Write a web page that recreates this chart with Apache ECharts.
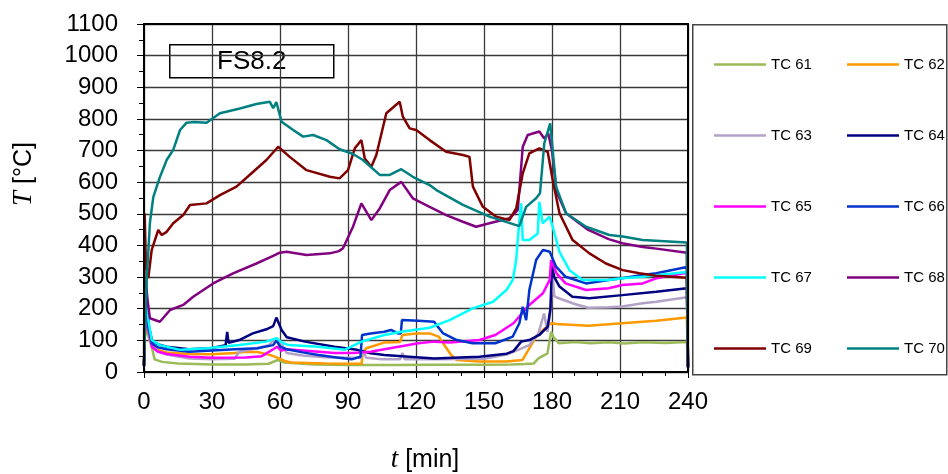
<!DOCTYPE html>
<html>
<head>
<meta charset="utf-8">
<script src="https://cdn.jsdelivr.net/npm/echarts@6/dist/echarts.min.js"></script>
<style>html,body{margin:0;padding:0;background:#fff}#c{width:948px;height:474px}</style>
</head>
<body>
<div id="c"></div>
<script>
const xTicks = [0, 30, 60, 90, 120, 150, 180, 210, 240];
const yTicks = [0, 100, 200, 300, 400, 500, 600, 700, 800, 900, 1000, 1100];
const seriesNames = ['TC 61','TC 62','TC 63','TC 64','TC 65','TC 66','TC 67','TC 68','TC 69','TC 70'];
const seriesColors = ['#9BBB59','#FF9900','#B3A2C7','#000080','#FF00FF','#0033CC','#00FFFF','#800080','#800000','#008080'];
const chartLabel = 'FS8.2';
const xTitle = '{i|t} [min]';
const yTitle = '{i|T} [°C]';

const tc61 = [[0,20],[0.7,200],[1.5,120],[2.5,100],[3.7,70],[4.7,40],[8,32],[15,27],[30,24],[45,24],[55,26],[59,38],[62,30],[75,24],[90,22],[110,22],[130,23],[150,23],[162,24],[168,25],[172,27],[174,43],[178,59],[179.6,127],[180.5,112],[183,91],[190,95],[197,91],[205,94],[212,90],[220,94],[230,92],[239.5,95],[240,15]];
const tc62 = [[0,20],[0.8,250],[2,130],[3.5,85],[6,70],[10,62],[20,57],[30,56],[40,60],[45,64],[50,63],[55,55],[58,48],[62,35],[65,30],[80,27],[96,26],[96.5,60],[98,75],[106,93],[113,95],[114,117],[120,122],[126,122],[130,112],[133,80],[135.5,54],[138,38],[148,33],[160,33],[167,38],[170,75],[173,112],[176,133],[179.6,154],[182,152],[196,146],[211,154],[226,162],[239.5,172],[240,15]];
const tc63 = [[0,20],[0.8,260],[2,140],[3.5,85],[6,65],[10,55],[20,43],[30,40],[40,42],[42,64],[50,75],[55,85],[58.5,107],[61,85],[63,60],[70,52],[80,47],[90,45],[96,45],[96.5,70],[98,45],[105,40],[113,40],[114,60],[115,40],[130,40],[150,42],[160,55],[165,70],[170,85],[174,122],[176.5,185],[178,127],[179.5,200],[180,330],[181,240],[183,233],[190,215],[196,203],[205,205],[211,207],[220,217],[226,222],[239.5,236],[240,15]];
const tc64 = [[0,20],[0.8,270],[2,150],[3.5,100],[6,88],[10,80],[20,72],[30,76],[36,85],[36.7,127],[37.3,92],[42,101],[48,122],[54,135],[57,145],[58.4,172],[60.7,133],[63,110],[71,96],[84,80],[94,70],[100,59],[106,54],[128,43],[148,48],[160,58],[163,66],[166.4,96],[170,101],[174.4,117],[178.1,143],[179.3,200],[180,335],[181,300],[183.3,270],[189,238],[196.5,233],[211,243],[226,254],[239.5,265],[240,15]];
const tc65 = [[0,20],[0.8,240],[2,130],[3.5,80],[6,65],[10,57],[20,48],[30,45],[45,46],[52,50],[57,72],[58.7,80],[60.5,68],[63,72],[77,64],[84,60],[92,60],[100,64],[106,72],[121,91],[128,96],[135,93],[148,101],[155,117],[163,154],[170,212],[176,249],[179,291],[179.6,354],[182,312],[186,280],[195,259],[205,265],[211,275],[220,280],[226,296],[239.5,314],[240,15]];
const tc66 = [[0,20],[0.8,260],[2,140],[3.5,90],[6,78],[10,72],[20,64],[30,68],[40,72],[50,75],[57,85],[58.5,100],[60,80],[63,72],[70,62],[77,54],[85,46],[91.6,40],[95.5,48],[96.2,117],[100,122],[106,127],[109,133],[112,122],[113.3,122],[113.8,164],[121,162],[128,159],[129,149],[132,122],[138,101],[145,91],[155,91],[162.7,112],[165.6,154],[167.1,206],[168.6,164],[170,259],[173,354],[176,386],[179,380],[181.8,333],[186,301],[195,280],[205,291],[211,296],[220,307],[226,312],[239.5,332],[240,15]];
const tc67 = [[0,20],[0.8,290],[2,160],[3.4,101],[7,85],[16,70],[27.6,75],[42,85],[54,96],[58.4,107],[61.4,91],[64,85],[77,80],[88.5,70],[96,96],[106,117],[113.5,127],[126,140],[134.8,164],[145,201],[154,222],[160,260],[162.7,291],[164.2,354],[165.6,480],[166.4,533],[167.1,417],[170,417],[173.7,438],[174.4,538],[175.9,470],[178.9,491],[180.3,459],[183.3,380],[187.7,322],[193.5,291],[205,291],[211,296],[220,301],[239.5,316],[240,15]];
const tc68 = [[0,20],[0.8,290],[1.5,230],[2.6,170],[7,159],[11.5,196],[17.3,212],[21.7,238],[30.5,280],[39.3,312],[49.6,343],[57,367],[59.9,377],[62.9,380],[71.7,370],[82,375],[86,382],[87.8,391],[92.2,459],[95.9,533],[100.3,480],[104,517],[108.4,575],[113.5,601],[118.6,549],[126,522],[133.3,496],[140.7,475],[146.5,459],[152.4,470],[161.2,486],[164.9,512],[167.1,712],[169.3,749],[174.4,760],[176.6,738],[178.3,755],[180,700],[182,570],[186.2,502],[196,449],[205,420],[211,407],[220,395],[226,390],[239.5,377],[240,15]];
const tc69 = [[0,20],[0.3,501],[0.8,350],[1.9,297],[3.4,386],[6.3,449],[7.8,433],[10,443],[12.9,470],[17.3,496],[20.3,528],[27.6,533],[33.5,559],[40.8,586],[48.2,633],[54,670],[59.2,712],[64.3,680],[71.7,638],[82,617],[86.3,612],[90,638],[93,707],[95.9,733],[97.4,675],[100.3,649],[102.5,686],[106.9,818],[112.8,854],[114.2,807],[117.2,770],[120.1,765],[126,733],[133.3,696],[140.7,686],[143.6,680],[145.1,586],[149.5,522],[155.4,491],[161.2,480],[164.2,517],[167.1,628],[170,691],[174.4,707],[178.1,696],[180.3,607],[183.3,502],[189.1,417],[196.5,375],[203.8,343],[211.2,322],[218.5,312],[225.9,304],[239.5,298],[240,15]];
const tc70 = [[0,20],[0.5,150],[1.2,291],[2.6,471],[4.1,553],[7,616],[10,670],[12.9,702],[15.9,765],[18.8,788],[22,790],[27.6,788],[33.5,818],[42.3,833],[49.6,847],[55.5,854],[57,834],[58.4,853],[60.7,791],[65.8,765],[70.2,744],[74.6,749],[80.5,733],[86.3,704],[92,690],[96.6,670],[104,623],[108.4,623],[113.5,641],[118.6,617],[126,591],[129,575],[140.7,528],[152.4,491],[165.6,461],[168.6,522],[173,549],[174.7,565],[176.6,723],[179.2,786],[181.8,586],[186.2,502],[195,459],[205.3,433],[211.2,428],[220,417],[239.5,409],[240,15]];

const seriesData = [tc61, tc62, tc63, tc64, tc65, tc66, tc67, tc68, tc69, tc70];

const FONT = 'Liberation Sans, Arial, sans-serif';
const SERIF = 'Liberation Serif, Times New Roman, serif';
const chart = echarts.init(document.getElementById('c'), null, {renderer: 'canvas'});

const series = seriesNames.map((n, i) => ({
  name: n,
  type: 'line',
  data: seriesData[i],
  showSymbol: false,
  symbol: 'none',
  animation: false,
  lineStyle: {color: seriesColors[i], width: 2.5},
  itemStyle: {color: seriesColors[i]},
  z: 3
}));

const legendCommon = {
  orient: 'vertical',
  top: 52,
  itemWidth: 52,
  itemHeight: 14,
  itemGap: 56,
  icon: 'path://M0,6 L52,6 L52,8.5 L0,8.5 Z',
  textStyle: {fontFamily: FONT, fontSize: 15, color: '#000', lineHeight: 14},
  selectedMode: false
};

const titleRich = {i: {fontFamily: SERIF, fontStyle: 'italic', fontSize: 27, color: '#000'}};

chart.setOption({
  animation: false,
  backgroundColor: '#fff',
  grid: {left: 144, right: 260, top: 24, bottom: 102, show: true, borderColor: '#000', borderWidth: 2, backgroundColor: 'transparent', z: 4},
  legend: [
    Object.assign({}, legendCommon, {left: 709, data: [seriesNames[0], seriesNames[2], seriesNames[4], seriesNames[6], seriesNames[8]]}),
    Object.assign({}, legendCommon, {left: 842, data: [seriesNames[1], seriesNames[3], seriesNames[5], seriesNames[7], seriesNames[9]]})
  ],
  xAxis: {
    type: 'value', min: xTicks[0], max: xTicks[xTicks.length - 1], interval: 30,
    axisLine: {show: true, lineStyle: {color: '#000', width: 2}},
    axisTick: {show: true, inside: false, length: 6, lineStyle: {color: '#000', width: 1}},
    minorTick: {show: true, splitNumber: 3, length: 4, lineStyle: {color: '#000', width: 1}},
    axisLabel: {fontFamily: FONT, fontSize: 24, color: '#000', margin: 18, formatter: v => String(v)},
    splitLine: {show: true, lineStyle: {color: '#3a3a3a', width: 1.3}}
  },
  yAxis: {
    type: 'value', min: yTicks[0], max: yTicks[yTicks.length - 1], interval: 100,
    axisLine: {show: true, lineStyle: {color: '#000', width: 2}},
    axisTick: {show: true, inside: false, length: 7, lineStyle: {color: '#000', width: 1}},
    minorTick: {show: true, splitNumber: 2, length: 5, lineStyle: {color: '#000', width: 1}},
    axisLabel: {fontFamily: FONT, fontSize: 24, color: '#000', margin: 26, formatter: v => String(v)},
    splitLine: {show: true, lineStyle: {color: '#3a3a3a', width: 1.3}}
  },
  graphic: [
    {type: 'rect', left: 692, top: 24, shape: {width: 254, height: 350}, style: {fill: 'transparent', stroke: '#444', lineWidth: 1.5}, z: 1},
    {type: 'group', left: 169, top: 44, z: 10, children: [
      {type: 'rect', shape: {x: 0, y: 0, width: 164, height: 33}, style: {fill: '#fff', stroke: '#000', lineWidth: 1.5}},
      {type: 'text', x: 82, y: 17, style: {text: chartLabel, fontFamily: FONT, fontSize: 26, fill: '#000', textAlign: 'center', textVerticalAlign: 'middle'}}
    ]},
    {type: 'text', x: 24, y: 174, rotation: Math.PI / 2, z: 10,
      style: {text: yTitle, fontFamily: FONT, fontSize: 25, fill: '#000', textAlign: 'center', textVerticalAlign: 'middle', rich: titleRich}},
    {type: 'text', x: 425, y: 460, z: 10,
      style: {text: xTitle, fontFamily: FONT, fontSize: 25, fill: '#000', textAlign: 'center', textVerticalAlign: 'middle', rich: titleRich}}
  ],
  series: series
});
</script>
</body>
</html>
